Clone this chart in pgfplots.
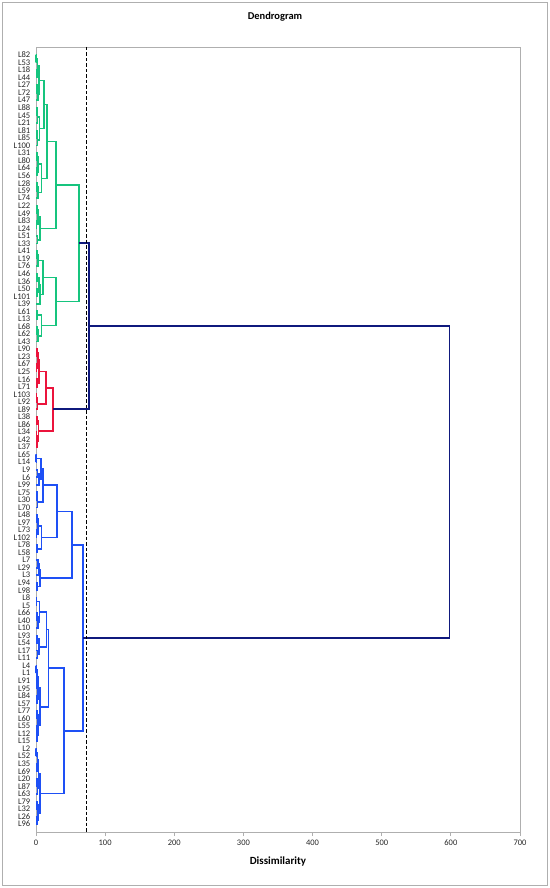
\documentclass[border=0pt]{standalone}
\usepackage{pgfplots}
\pgfplotsset{compat=1.18}
\usepackage{fontspec}
\setmainfont{Carlito}
\definecolor{dgreen}{RGB}{22,196,126}
\definecolor{dred}{RGB}{235,20,60}
\definecolor{dblue}{RGB}{30,80,245}
\definecolor{dnavy}{RGB}{15,25,125}
\definecolor{framec}{RGB}{175,175,175}

\begin{document}
\begin{tikzpicture}
\useasboundingbox (0bp,0bp) rectangle (550bp,888bp);
\draw[framec, line width=0.8bp] (2.5bp,2.5bp) rectangle (547.5bp,885.5bp);
\node[font=\bfseries\fontsize{10.5}{12}\selectfont] at (275bp,871bp) {Dendrogram};
\begin{axis}[at={(36bp,56bp)}, anchor=south west, scale only axis,
  width=484bp, height=785bp,
  xmin=0, xmax=700, ymin=-1.06, ymax=103.06, y dir=reverse,
  unbounded coords=jump,
  axis line style={framec, line width=0.8bp},
  xtick={0,100,...,700}, tick align=outside, major tick length=4bp,
  xtick pos=bottom,
  xtick style={framec, line width=0.8bp},
  ytick={0,...,102}, ytick style={draw=none},
  yticklabels={L82,L53,L18,L44,L27,L72,L47,L88,L45,L21,L81,L85,L100,L31,L80,L64,L56,L28,L59,L74,L22,L49,L83,L24,L51,L33,L41,L19,L76,L46,L36,L50,L101,L39,L61,L13,L68,L62,L43,L90,L23,L67,L25,L16,L71,L103,L92,L89,L38,L86,L34,L42,L37,L65,L14,L9,L6,L99,L75,L30,L70,L48,L97,L73,L102,L78,L58,L7,L29,L3,L94,L98,L8,L5,L66,L40,L10,L93,L54,L17,L11,L4,L1,L91,L95,L84,L57,L77,L60,L55,L12,L15,L2,L52,L35,L69,L20,L87,L63,L79,L32,L26,L96},
  yticklabel style={font=\fontsize{8.6}{8.6}\selectfont, text=black!85, inner sep=1.5bp},
  xticklabel style={font=\fontsize{8.5}{9}\selectfont, text=black!85},
  /pgf/number format/assume math mode=true,
  xlabel={Dissimilarity},
  xlabel style={font=\bfseries\fontsize{11}{12}\selectfont, at={(axis description cs:0.5,0)}, anchor=center, yshift=-30bp},
  clip=false,
]
% green cluster
\addplot[dgreen, line width=1.7bp] table {
0 0
0.5 0
0.5 1
0 1
nan nan
0 2
1 2
1 3
0 3
nan nan
0.5 0.5
2 0.5
2 2.5
1 2.5
nan nan
0 4
1.5 4
1.5 5
0 5
nan nan
1.5 4.5
2.5 4.5
2.5 6
0 6
nan nan
2 1.5
4 1.5
4 5.25
2.5 5.25
nan nan
0 7
1 7
1 8
0 8
nan nan
1 7.5
2 7.5
2 9
0 9
nan nan
0 10
1 10
1 11
0 11
nan nan
1 10.5
2 10.5
2 12
0 12
nan nan
2 8.25
5 8.25
5 11.25
2 11.25
nan nan
4 3.375
12 3.375
12 9.75
5 9.75
nan nan
0 13
1 13
1 14
0 14
nan nan
0 15
1 15
1 16
0 16
nan nan
1 13.5
3 13.5
3 15.5
1 15.5
nan nan
0 17
1.2 17
1.2 18
0 18
nan nan
1.2 17.5
2.5 17.5
2.5 19
0 19
nan nan
3 14.5
8 14.5
8 18.25
2.5 18.25
nan nan
12 6.5625
16 6.5625
16 16.375
8 16.375
nan nan
0 20
1 20
1 21
0 21
nan nan
0 22
0.8 22
0.8 23
0 23
nan nan
1 20.5
2.5 20.5
2.5 22.5
0.8 22.5
nan nan
0 24
2 24
2 25
0 25
nan nan
2.5 21.5
6 21.5
6 24.5
2 24.5
nan nan
16 11.469
29 11.469
29 23
6 23
nan nan
0 26
1 26
1 27
0 27
nan nan
1 26.5
3 26.5
3 28
0 28
nan nan
0 29
1 29
1 30
0 30
nan nan
0 31
1.5 31
1.5 32
0 32
nan nan
1 29.5
4 29.5
4 31.5
1.5 31.5
nan nan
4 30.5
6 30.5
6 33
0 33
nan nan
3 27.25
10 27.25
10 31.75
6 31.75
nan nan
0 34
1 34
1 35
0 35
nan nan
0 36
1.5 36
1.5 37
0 37
nan nan
1.5 36.5
3 36.5
3 38
0 38
nan nan
1 34.5
8 34.5
8 37.25
3 37.25
nan nan
10 29.5
29 29.5
29 35.875
8 35.875
nan nan
29 17.234
62 17.234
62 32.688
29 32.688
};
% red cluster
\addplot[dred, line width=1.7bp] table {
0 39
1 39
1 40
0 40
nan nan
0 41
0.7 41
0.7 42
0 42
nan nan
1 39.5
2.5 39.5
2.5 41.5
0.7 41.5
nan nan
0 43
1.5 43
1.5 44
0 44
nan nan
2.5 40.5
4.8 40.5
4.8 43.5
1.5 43.5
nan nan
0 45
0.8 45
0.8 46
0 46
nan nan
0.8 45.5
2 45.5
2 47
0 47
nan nan
4.8 42
14.5 42
14.5 46.25
2 46.25
nan nan
0 48
1 48
1 49
0 49
nan nan
0 50
0.8 50
0.8 51
0 51
nan nan
0.8 50.5
1.8 50.5
1.8 52
0 52
nan nan
1 48.5
3.5 48.5
3.5 51.25
1.8 51.25
nan nan
14.5 44.125
24.5 44.125
24.5 49.875
3.5 49.875
};
% blue cluster
\addplot[dblue, line width=1.7bp] table {
0 53
0.5 53
0.5 54
0 54
nan nan
0 55
2 55
2 56
0 56
nan nan
2 55.5
4 55.5
4 57
0 57
nan nan
0.5 53.5
7 53.5
7 56.25
4 56.25
nan nan
0 58
1 58
1 59
0 59
nan nan
1 58.5
2 58.5
2 60
0 60
nan nan
7 54.875
10.6 54.875
10.6 59.25
2 59.25
nan nan
0 61
1 61
1 62
0 62
nan nan
0 63
0.8 63
0.8 64
0 64
nan nan
1 61.5
3 61.5
3 63.5
0.8 63.5
nan nan
0 65
1.5 65
1.5 66
0 66
nan nan
3 62.5
8 62.5
8 65.5
1.5 65.5
nan nan
10.6 57.0625
30 57.0625
30 64
8 64
nan nan
0 67
3 67
3 68
0 68
nan nan
3 67.5
4 67.5
4 69
0 69
nan nan
0 70
1 70
1 71
0 71
nan nan
4 68.25
5.8 68.25
5.8 70.5
1 70.5
nan nan
30 60.531
52 60.531
52 69.375
5.8 69.375
nan nan
0 72
0.8 72
0.8 73
0 73
nan nan
0 74
1.5 74
1.5 75
0 75
nan nan
1.5 74.5
2.5 74.5
2.5 76
0 76
nan nan
0.8 72.5
5 72.5
5 75.25
2.5 75.25
nan nan
0 77
1 77
1 78
0 78
nan nan
0 79
2 79
2 80
0 80
nan nan
1 77.5
4 77.5
4 79.5
2 79.5
nan nan
5 73.875
15.4 73.875
15.4 78.5
4 78.5
nan nan
0 81
0.5 81
0.5 82
0 82
nan nan
0 83
0.8 83
0.8 84
0 84
nan nan
0.5 81.5
1.5 81.5
1.5 83.5
0.8 83.5
nan nan
0 85
1 85
1 86
0 86
nan nan
1.5 82.5
3 82.5
3 85.5
1 85.5
nan nan
0 87
1 87
1 88
0 88
nan nan
0 89
0.6 89
0.6 90
0 90
nan nan
0.6 89.5
1.2 89.5
1.2 91
0 91
nan nan
1 87.5
2.5 87.5
2.5 90.25
1.2 90.25
nan nan
3 84
5.8 84
5.8 88.875
2.5 88.875
nan nan
15.4 76.1875
18 76.1875
18 86.4375
5.8 86.4375
nan nan
0 92
0.5 92
0.5 93
0 93
nan nan
0 94
1 94
1 95
0 95
nan nan
0.5 92.5
2 92.5
2 94.5
1 94.5
nan nan
0 96
1 96
1 97
0 97
nan nan
1 96.5
2 96.5
2 98
0 98
nan nan
2 93.5
3.5 93.5
3.5 97.25
2 97.25
nan nan
0 99
1 99
1 100
0 100
nan nan
0 101
1.5 101
1.5 102
0 102
nan nan
1 99.5
3 99.5
3 101.5
1.5 101.5
nan nan
3.5 95.375
5.8 95.375
5.8 100.5
3 100.5
nan nan
18 81.3125
40 81.3125
40 97.9375
5.8 97.9375
nan nan
52 64.953
68 64.953
68 89.625
40 89.625
};
% top-level links
\addplot[dnavy, line width=1.7bp] table {
62 24.961
77 24.961
77 47
24.5 47
nan nan
77 35.98
598 35.98
598 77.289
68 77.289
};
% truncation line
\addplot[black, dashed, line width=1.1bp, dash pattern=on 3.5bp off 2bp] table {
72.5 -1.06
72.5 103.06
};
\end{axis}
\end{tikzpicture}
\end{document}
